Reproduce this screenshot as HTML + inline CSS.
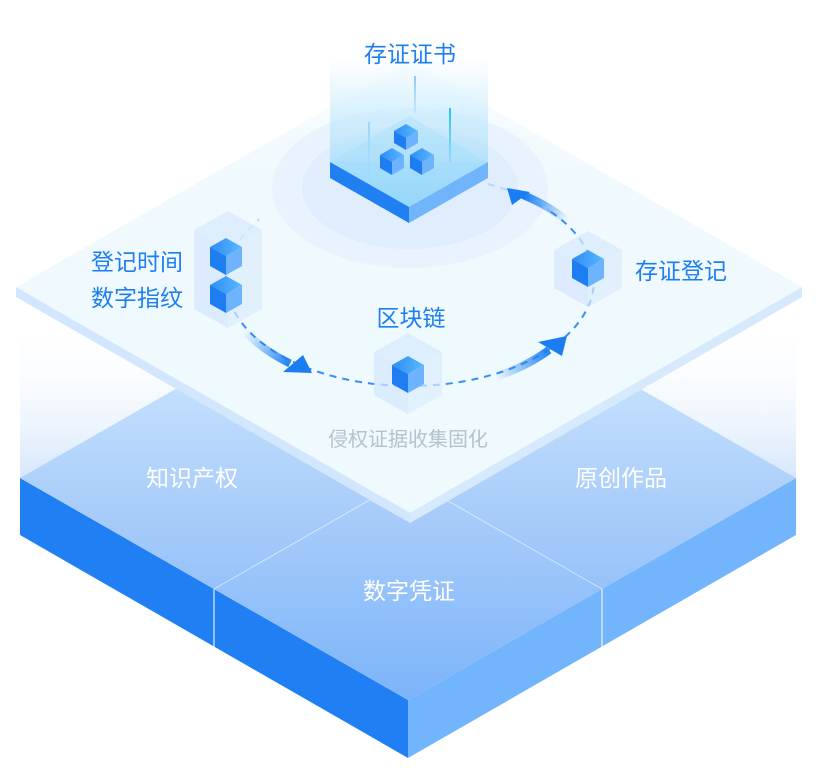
<!DOCTYPE html>
<html><head><meta charset="utf-8"><style>
html,body{margin:0;padding:0;background:#fff;}
svg{display:block;}
text{font-family:"Liberation Sans","Noto Sans CJK SC",sans-serif;}
</style></head><body>
<svg width="816" height="768" viewBox="0 0 816 768" xmlns="http://www.w3.org/2000/svg">
<defs>
<linearGradient id="fade" x1="0" y1="320" x2="0" y2="480" gradientUnits="userSpaceOnUse">
<stop offset="0" stop-color="#ffffff" stop-opacity="0"/><stop offset="1" stop-color="#d5e7fc"/></linearGradient>
<linearGradient id="slabTop" x1="0" y1="256" x2="0" y2="700" gradientUnits="userSpaceOnUse">
<stop offset="0" stop-color="#d2e8fd"/><stop offset="0.3" stop-color="#c2dffc"/><stop offset="0.6" stop-color="#a6cbfa"/><stop offset="1" stop-color="#7cb4fa"/></linearGradient>
<linearGradient id="plateTop" x1="0" y1="61" x2="0" y2="513" gradientUnits="userSpaceOnUse">
<stop offset="0" stop-color="#fbfeff"/><stop offset="0.25" stop-color="#f0f9fe"/><stop offset="1" stop-color="#eefafe"/></linearGradient>
<linearGradient id="cubeTop" x1="0" y1="0" x2="1" y2="0">
<stop offset="0" stop-color="#2f8cf5"/><stop offset="1" stop-color="#58b8fd"/></linearGradient>
<linearGradient id="platTop" x1="0" y1="116" x2="0" y2="207" gradientUnits="userSpaceOnUse">
<stop offset="0" stop-color="#b8e4fc"/><stop offset="1" stop-color="#88d2fa"/></linearGradient>
<linearGradient id="column" x1="0" y1="55" x2="0" y2="165" gradientUnits="userSpaceOnUse">
<stop offset="0" stop-color="#d8f0fe" stop-opacity="0"/><stop offset="0.4" stop-color="#cdeefe" stop-opacity="0.55"/><stop offset="1" stop-color="#a9def9" stop-opacity="0.8"/></linearGradient>
<linearGradient id="lineA" x1="0" y1="76" x2="0" y2="113" gradientUnits="userSpaceOnUse">
<stop offset="0" stop-color="#8cc6f6"/><stop offset="1" stop-color="#8cc6f6" stop-opacity="0.2"/></linearGradient>
<linearGradient id="lineB" x1="0" y1="108" x2="0" y2="162" gradientUnits="userSpaceOnUse">
<stop offset="0" stop-color="#1ec2f2"/><stop offset="1" stop-color="#1ec2f2" stop-opacity="0.2"/></linearGradient>
<linearGradient id="lineC" x1="0" y1="122" x2="0" y2="182" gradientUnits="userSpaceOnUse">
<stop offset="0" stop-color="#9ad5f8"/><stop offset="1" stop-color="#9ad5f8" stop-opacity="0.1"/></linearGradient>
<linearGradient id="bandL" x1="245" y1="331" x2="292" y2="364" gradientUnits="userSpaceOnUse">
<stop offset="0" stop-color="#1f80f2" stop-opacity="0"/><stop offset="1" stop-color="#1a7ef2"/></linearGradient>
<linearGradient id="bandR" x1="495" y1="377" x2="551" y2="350" gradientUnits="userSpaceOnUse">
<stop offset="0" stop-color="#1f80f2" stop-opacity="0"/><stop offset="1" stop-color="#1a7ef2"/></linearGradient>
<linearGradient id="bandT" x1="567" y1="221" x2="524" y2="195" gradientUnits="userSpaceOnUse">
<stop offset="0" stop-color="#1f80f2" stop-opacity="0"/><stop offset="1" stop-color="#1a7ef2"/></linearGradient>
</defs>

<rect width="816" height="768" fill="#ffffff"/>

<!-- fade panel behind slab -->
<rect x="20" y="320" width="776" height="160" fill="url(#fade)"/>

<!-- bottom slab -->
<polygon points="20,478 408,700 408,758 20,535" fill="#2080f3"/>
<polygon points="408,700 796,478 796,535 408,758" fill="#72b5fd"/>
<polygon points="20,478 408,256 796,478 408,700" fill="url(#slabTop)"/>
<line x1="214" y1="589" x2="408" y2="478" stroke="#ffffff" stroke-opacity="0.55" stroke-width="1"/>
<line x1="602" y1="589" x2="408" y2="478" stroke="#ffffff" stroke-opacity="0.55" stroke-width="1"/>
<line x1="214" y1="589" x2="214" y2="647" stroke="#ffffff" stroke-opacity="0.85" stroke-width="1.2"/>
<line x1="602" y1="589" x2="602" y2="647" stroke="#ffffff" stroke-opacity="0.85" stroke-width="1.2"/>

<!-- top plate -->
<polygon points="16,287 410,513 410,523 16,297" fill="#d2e7fd"/>
<polygon points="410,513 802,287 802,297 410,523" fill="#d6e9fd"/>
<polygon points="16,287 410,61 802,287 410,513" fill="url(#plateTop)"/>

<!-- rings -->
<ellipse cx="410" cy="188" rx="138" ry="80" fill="#e8f3fd"/>
<ellipse cx="410" cy="188" rx="108" ry="61" fill="#e0edfc"/>

<!-- dashed orbit -->
<path d="M 550.9 211.8 A 184 106 0 1 1 226.7 289.2" fill="none" stroke="#3a8ef5" stroke-width="2" stroke-dasharray="7 6"/>
<path d="M 226.7 289.2 A 184 106 0 0 1 259.3 219.2" fill="none" stroke="#a9d2f8" stroke-opacity="0.8" stroke-width="2" stroke-dasharray="7 6"/>
<path d="M 487.8 184 A 184 106 0 0 1 550.9 211.8" fill="none" stroke="#a9d2f8" stroke-opacity="0.8" stroke-width="2" stroke-dasharray="7 6"/>

<!-- prisms -->
<g>
<polygon points="228,211 262,230 228,249 194,230" fill="#d9eafc" fill-opacity="0.75"/>
<polygon points="194,230 228,249 228,328 194,309" fill="#d3e6fc" fill-opacity="0.7"/>
<polygon points="228,249 262,230 262,309 228,328" fill="#dcecfc" fill-opacity="0.7"/>

<polygon points="408,333 442,352 408,371 374,352" fill="#d9eafc" fill-opacity="0.75"/>
<polygon points="374,352 408,371 408,414 374,395" fill="#d3e6fc" fill-opacity="0.7"/>
<polygon points="408,371 442,352 442,395 408,414" fill="#dcecfc" fill-opacity="0.7"/>

<polygon points="588,231 622,250 588,269 554,250" fill="#d9eafc" fill-opacity="0.75"/>
<polygon points="554,250 588,269 588,307 554,288" fill="#d3e6fc" fill-opacity="0.7"/>
<polygon points="588,269 622,250 622,288 588,307" fill="#dcecfc" fill-opacity="0.7"/>
</g>

<!-- cubes -->
<g>
<polygon points="226,238 242,247 226,256 210,247" fill="url(#cubeTop)"/>
<polygon points="210,247 226,256 226,275 210,266" fill="#1e7ef1"/>
<polygon points="226,256 242,247 242,266 226,275" fill="#6db3fd"/>

<polygon points="226,276 242,285 226,294 210,285" fill="url(#cubeTop)"/>
<polygon points="210,285 226,294 226,313 210,304" fill="#1e7ef1"/>
<polygon points="226,294 242,285 242,304 226,313" fill="#6db3fd"/>

<polygon points="408,356 424,365 408,374 392,365" fill="url(#cubeTop)"/>
<polygon points="392,365 408,374 408,393 392,384" fill="#1e7ef1"/>
<polygon points="408,374 424,365 424,384 408,393" fill="#6db3fd"/>

<polygon points="588,250 604,259 588,268 572,259" fill="url(#cubeTop)"/>
<polygon points="572,259 588,268 588,287 572,278" fill="#1e7ef1"/>
<polygon points="588,268 604,259 604,278 588,287" fill="#6db3fd"/>
</g>

<!-- arrows -->
<path d="M 244.9 331.1 A 187 109 0 0 0 290 363.5" fill="none" stroke="url(#bandL)" stroke-width="8"/>
<polygon points="312,373 283,372 303,355" fill="#1a7ef2"/>

<path d="M 494.9 377.1 A 187 109 0 0 0 549 350" fill="none" stroke="url(#bandR)" stroke-width="8"/>
<polygon points="567,336 538,342 562,356" fill="#1a7ef2"/>

<path d="M 566.9 220.6 A 187 109 0 0 0 523 195" fill="none" stroke="url(#bandT)" stroke-width="8"/>
<polygon points="507,188 512,205 530,192" fill="#1a7ef2"/>

<!-- central platform -->
<polygon points="409,116 488,162 409,207 330,162" fill="url(#platTop)"/>
<polygon points="330,162 409,207 409,223 330,178" fill="#2080f2"/>
<polygon points="409,207 488,162 488,178 409,223" fill="#70b4fc"/>
<rect x="330" y="55" width="158" height="107" fill="url(#column)"/>
<polygon points="330,162 409,207 488,162 488,160 409,116 330,160" fill="#bfe8fd" fill-opacity="0.25"/>

<line x1="415" y1="76" x2="415" y2="113" stroke="url(#lineA)" stroke-width="2"/>
<line x1="450" y1="108" x2="450" y2="162" stroke="url(#lineB)" stroke-width="2"/>
<line x1="369" y1="122" x2="369" y2="182" stroke="url(#lineC)" stroke-width="2"/>

<g>
<polygon points="406,124 418,131 406,138 394,131" fill="url(#cubeTop)"/>
<polygon points="394,131 406,138 406,150 394,143" fill="#1e7ef1"/>
<polygon points="406,138 418,131 418,143 406,150" fill="#6db3fd"/>

<polygon points="392,148 404,155 392,162 380,155" fill="url(#cubeTop)"/>
<polygon points="380,155 392,162 392,175 380,168" fill="#1e7ef1"/>
<polygon points="392,162 404,155 404,168 392,175" fill="#6db3fd"/>

<polygon points="422,148 434,155 422,162 410,155" fill="url(#cubeTop)"/>
<polygon points="410,155 422,162 422,175 410,168" fill="#1e7ef1"/>
<polygon points="422,162 434,155 434,168 422,175" fill="#6db3fd"/>
</g>

<!-- labels -->
<g fill="#1d7ff1" font-size="23">
<text x="410" y="62" text-anchor="middle">存证证书</text>
<text x="183" y="270" text-anchor="end">登记时间</text>
<text x="183" y="306" text-anchor="end">数字指纹</text>
<text x="635" y="279">存证登记</text>
<text x="411" y="326" text-anchor="middle">区块链</text>
</g>
<text x="408" y="446" text-anchor="middle" font-size="20" fill="#b5c1cd">侵权证据收集固化</text>
<g fill="#ffffff" font-size="23">
<text x="192" y="486" text-anchor="middle">知识产权</text>
<text x="621" y="486" text-anchor="middle">原创作品</text>
<text x="409" y="599" text-anchor="middle">数字凭证</text>
</g>
</svg>
</body></html>
